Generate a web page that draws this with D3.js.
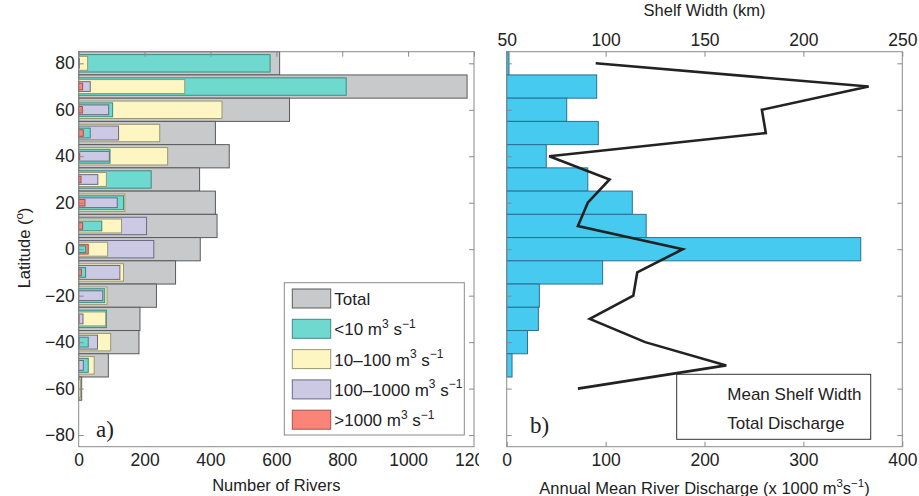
<!DOCTYPE html>
<html>
<head>
<meta charset="utf-8">
<script src="https://cdn.jsdelivr.net/npm/d3@7"></script>
<style>
  html, body { margin: 0; padding: 0; background: #fff; }
  svg { display: block; font-family: "Liberation Sans", Arial, sans-serif; }
</style>
</head>
<body>
<svg id="chart" width="919" height="496"></svg>
<script>
// ---------------- DATA ----------------
const latitudes = [80, 70, 60, 50, 40, 30, 20, 10, 0, -10, -20, -30, -40, -50, -60];
const totalRivers   = [610, 1179, 640, 415, 457, 367, 415, 420, 369, 294, 236, 186, 183, 90, 9];
const riversLt10    = [581, 812, 103, 35, 95, 220, 136, 70, 21, 21, 79, 84, 29, 29, 0];
const rivers10_100  = [27, 322, 435, 246, 270, 84, 140, 130, 88, 136, 86, 82, 97, 47, 6];
const rivers100_1000= [2, 35, 91, 121, 93, 58, 117, 206, 228, 125, 73, 13, 57, 14, 0];
const riversGt1000  = [0, 12, 11, 14, 3, 7, 19, 12, 29, 8, 0, 1, 1, 0, 0];
const totalDischarge = [2.3, 91, 60.7, 92.6, 40, 82, 127, 141, 358, 97, 33, 32, 21, 5.4, 0]; // x1000 m3/s
const meanShelfWidth = [95, 233, 179, 181, 71.5, 102, 91, 86, 139, 116, 114, 92, 120, 161, 86]; // km

const latTicks = [80, 60, 40, 20, 0, -20, -40, -60, -80];
const riverTicks = [0, 200, 400, 600, 800, 1000, 1200];
const dischargeTicks = [0, 100, 200, 300, 400];
const shelfTicks = [50, 100, 150, 200, 250];

const subSeries = [
  { name: "<10",       values: riversLt10,     fill: "#6fd9cf", stroke: "#3c8a83" },
  { name: "10–100",    values: rivers10_100,   fill: "#fdf6c3", stroke: "#9b9870" },
  { name: "100–1000",  values: rivers100_1000, fill: "#cbc9e3", stroke: "#6c6a80" },
  { name: ">1000",     values: riversGt1000,   fill: "#fb8478", stroke: "#a4524b" }
];

// ---------------- LAYOUT ----------------
const svg = d3.select("#chart");
const axisColor = "#8a8a8a";
const textColor = "#222";
const plotTop = 51.7, plotBottom = 446.7;
const y = d3.scaleLinear().domain([-85, 85]).range([plotBottom, plotTop]);
const xL = d3.scaleLinear().domain([0, 1200]).range([78.7, 474]);
const xR = d3.scaleLinear().domain([0, 400]).range([506.7, 902.3]);
const xS = d3.scaleLinear().domain([50, 250]).range([506.7, 902.3]);
const binHalf = 5;
const binH = y(0) - y(10);
const fmt = d => d < 0 ? "−" + Math.abs(d) : String(d);

function styleAxis(g, showLabels) {
  g.select(".domain").remove();
  g.selectAll(".tick line").attr("stroke", axisColor).attr("stroke-width", 1);
  g.selectAll(".tick text").attr("fill", textColor).style("font-size", "17.5px")
    .style("font-family", "'Liberation Sans', Arial, sans-serif");
  if (!showLabels) g.selectAll(".tick text").remove();
}

// ---------------- LEFT PANEL ----------------
const leftG = svg.append("g");

leftG.selectAll("rect.total").data(latitudes).join("rect")
  .attr("class", "total")
  .attr("x", xL(0))
  .attr("y", d => y(d + binHalf))
  .attr("width", (d, i) => xL(totalRivers[i]) - xL(0))
  .attr("height", binH)
  .attr("fill", "#c8c9cb").attr("stroke", "#5a5a5a").attr("stroke-width", 1);

const fracs = [0.75, 0.6, 0.42, 0.28];
latitudes.forEach((lat, i) => {
  const items = subSeries.map(s => ({ v: s.values[i], s }))
    .filter(d => d.v > 0)
    .sort((a, b) => b.v - a.v);
  items.forEach((it, r) => {
    const h = fracs[r] * binH;
    leftG.append("rect")
      .attr("x", xL(0))
      .attr("y", y(lat) - h / 2)
      .attr("width", xL(it.v) - xL(0))
      .attr("height", h)
      .attr("fill", it.s.fill).attr("stroke", it.s.stroke).attr("stroke-width", 1);
  });
});

leftG.append("g").attr("transform", `translate(${xL(0)},0)`)
  .call(d3.axisLeft(y).tickValues(latTicks).tickSize(-5).tickPadding(4).tickFormat(fmt))
  .call(g => styleAxis(g, true));
leftG.append("g").attr("transform", `translate(${xL(1200)},0)`)
  .call(d3.axisRight(y).tickValues(latTicks).tickSize(-5))
  .call(g => styleAxis(g, false));
svg.append("clipPath").attr("id", "clipL").append("rect").attr("x", 0).attr("y", 0).attr("width", 479).attr("height", 496);
leftG.append("g").attr("transform", `translate(0,${plotBottom})`).attr("clip-path", "url(#clipL)")
  .call(d3.axisBottom(xL).tickValues(riverTicks).tickSize(-5).tickPadding(7).tickFormat(fmt))
  .call(g => styleAxis(g, true));
leftG.append("g").attr("transform", `translate(0,${plotTop})`)
  .call(d3.axisTop(xL).tickValues(riverTicks).tickSize(-5))
  .call(g => styleAxis(g, false));
leftG.append("rect").attr("x", xL(0)).attr("y", plotTop).attr("width", xL(1200) - xL(0)).attr("height", plotBottom - plotTop)
  .attr("fill", "none").attr("stroke", axisColor).attr("stroke-width", 1);

const legL = leftG.append("g");
legL.append("rect").attr("x", 284.3).attr("y", 282.7).attr("width", 180).attr("height", 152.3)
  .attr("fill", "#fff").attr("stroke", axisColor).attr("stroke-width", 1);
const legendItems = [{ label: "Total", fill: "#c8c9cb", stroke: "#5a5a5a" }].concat(subSeries.map(s => ({ label: s.name, fill: s.fill, stroke: s.stroke, unit: true })));
legendItems.forEach((it, k) => {
  const yy = 289 + k * 30.3;
  legL.append("rect").attr("x", 292.3).attr("y", yy).attr("width", 38.4).attr("height", 19)
    .attr("fill", it.fill).attr("stroke", it.stroke).attr("stroke-width", 1);
  const t = legL.append("text").attr("x", 334.3).attr("y", yy + 16).attr("fill", textColor).style("font-size", "17px");
  if (!it.unit) { t.text(it.label); }
  else {
    t.append("tspan").text(it.label + " m");
    t.append("tspan").attr("dy", -7.5).style("font-size", "12px").text("3");
    t.append("tspan").attr("dy", 7.5).text(" s");
    t.append("tspan").attr("dy", -7.5).style("font-size", "12px").text("−1");
  }
});

leftG.append("text").attr("x", 96).attr("y", 437).attr("fill", textColor)
  .style("font-family", "'Liberation Serif', 'Times New Roman', serif").style("font-size", "23px").text("a)");

leftG.append("text").attr("x", xL(600)).attr("y", 491).attr("text-anchor", "middle").attr("fill", textColor)
  .style("font-size", "16.5px").text("Number of Rivers");
const latLabel = leftG.append("text").attr("transform", "translate(30,248) rotate(-90)").attr("text-anchor", "middle")
  .attr("fill", textColor).style("font-size", "16.5px");
latLabel.append("tspan").text("Latitude (");
latLabel.append("tspan").attr("dy", -7).style("font-size", "11.5px").text("o");
latLabel.append("tspan").attr("dy", 7).text(")");

// ---------------- RIGHT PANEL ----------------
const rightG = svg.append("g");
rightG.selectAll("rect.dis").data(latitudes).join("rect")
  .attr("class", "dis")
  .attr("x", xR(0))
  .attr("y", d => y(d + binHalf))
  .attr("width", (d, i) => xR(totalDischarge[i]) - xR(0))
  .attr("height", binH)
  .attr("fill", "#47caf0").attr("stroke", "#2c6f8e").attr("stroke-width", 1)
  .style("display", (d, i) => totalDischarge[i] > 0 ? null : "none");

rightG.append("rect").attr("x", 676.7).attr("y", 374.3).attr("width", 194).attr("height", 65)
  .attr("fill", "#fff").attr("stroke", "#333").attr("stroke-width", 1);
rightG.append("text").attr("x", 727.3).attr("y", 400).attr("fill", textColor).style("font-size", "17px").text("Mean Shelf Width");
rightG.append("text").attr("x", 727.3).attr("y", 429.3).attr("fill", textColor).style("font-size", "17px").text("Total Discharge");

const line = d3.line().x(d => xS(d.w)).y(d => y(d.lat));
rightG.append("path")
  .datum(latitudes.map((lat, i) => ({ lat, w: meanShelfWidth[i] })))
  .attr("d", line).attr("fill", "none").attr("stroke", "#222").attr("stroke-width", 2.6)
  .attr("stroke-linejoin", "miter");

rightG.append("g").attr("transform", `translate(${xR(0)},0)`)
  .call(d3.axisLeft(y).tickValues(latTicks).tickSize(-5))
  .call(g => styleAxis(g, false));
rightG.append("g").attr("transform", `translate(${xR(400)},0)`)
  .call(d3.axisRight(y).tickValues(latTicks).tickSize(-5))
  .call(g => styleAxis(g, false));
rightG.append("g").attr("transform", `translate(0,${plotBottom})`)
  .call(d3.axisBottom(xR).tickValues(dischargeTicks).tickSize(-5).tickPadding(7).tickFormat(fmt))
  .call(g => styleAxis(g, true));
rightG.append("g").attr("transform", `translate(0,${plotTop})`)
  .call(d3.axisTop(xS).tickValues(shelfTicks).tickSize(-5).tickPadding(6).tickFormat(fmt))
  .call(g => styleAxis(g, true));
rightG.append("rect").attr("x", xR(0)).attr("y", plotTop).attr("width", xR(400) - xR(0)).attr("height", plotBottom - plotTop)
  .attr("fill", "none").attr("stroke", axisColor).attr("stroke-width", 1);

rightG.append("text").attr("x", 530).attr("y", 433).attr("fill", textColor)
  .style("font-family", "'Liberation Serif', 'Times New Roman', serif").style("font-size", "23px").text("b)");

rightG.append("text").attr("x", 704.5).attr("y", 16).attr("text-anchor", "middle").attr("fill", textColor)
  .style("font-size", "16.5px").text("Shelf Width (km)");
const disLabel = rightG.append("text").attr("x", 704.5).attr("y", 494).attr("text-anchor", "middle")
  .attr("fill", textColor).style("font-size", "16.5px");
disLabel.append("tspan").text("Annual Mean River Discharge (x 1000 m");
disLabel.append("tspan").attr("dy", -7).style("font-size", "11.5px").text("3");
disLabel.append("tspan").attr("dy", 7).text("s");
disLabel.append("tspan").attr("dy", -7).style("font-size", "11.5px").text("−1");
disLabel.append("tspan").attr("dy", 7).text(")");
</script>
</body>
</html>
